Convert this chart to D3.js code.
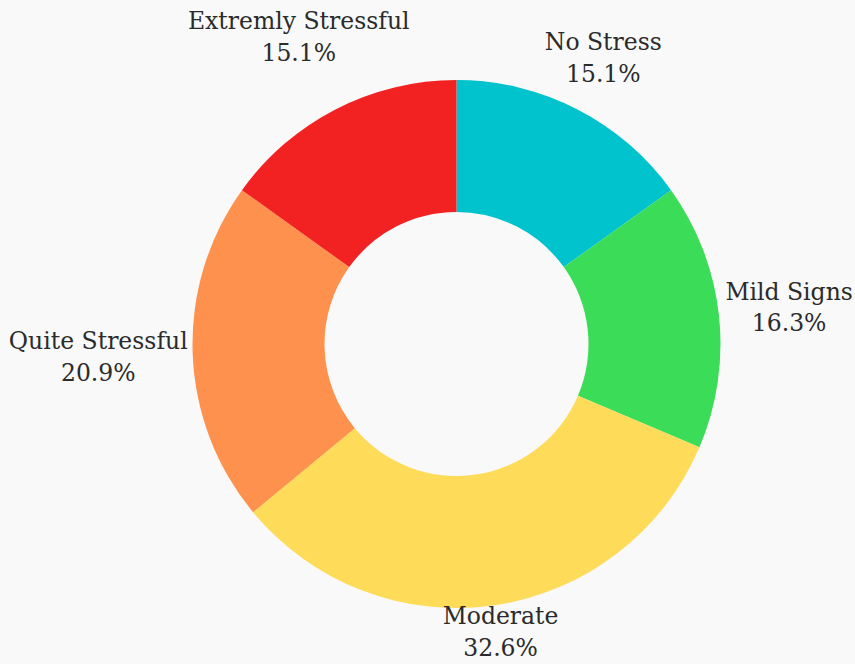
<!DOCTYPE html>
<html lang="en">
  <head>
    <meta charset="UTF-8" />
    <title>Stress levels</title>
    <style>
      html, body {
        margin: 0;
        background-color: #f9f9f9;
      }
      #chart text {
        font-family: "DejaVu Serif", serif;
        fill: #2b2b2b;
      }
    </style>
    <script src="https://cdn.jsdelivr.net/npm/d3@7"></script>
  </head>
  <body>
    <div id="chart"></div>
    <script>
      // data, in clockwise order from 12 o'clock
      const categories = ["No Stress", "Mild Signs", "Moderate", "Quite Stressful", "Extremly Stressful"];
      const shares = [15.1, 16.3, 32.6, 20.9, 15.1];
      const sliceColors = ["#00c3cd", "#3bdc57", "#fedc5a", "#fe914d", "#f22222"];

      const width = 855, height = 664;
      const cx = 456.5, cy = 344;
      const outerR = 264, innerR = 132;
      const fontSize = 23.5, lineGap = 32;

      const svg = d3.select("#chart").append("svg")
        .attr("width", width)
        .attr("height", height);

      const data = categories.map((c, i) => ({ name: c, value: shares[i], color: sliceColors[i] }));

      const pie = d3.pie().sort(null).value(d => d.value);
      const arc = d3.arc().innerRadius(innerR).outerRadius(outerR);

      const g = svg.append("g").attr("transform", `translate(${cx},${cy})`);

      const arcs = pie(data);

      g.selectAll("path.slice")
        .data(arcs)
        .join("path")
        .attr("class", "slice")
        .attr("d", arc)
        .attr("fill", d => d.data.color);

      // outside labels: box pushed just past the rim along the mid angle
      const labels = g.selectAll("g.label")
        .data(arcs)
        .join("g")
        .attr("class", "label");

      labels.append("text")
        .attr("text-anchor", "middle")
        .attr("font-size", fontSize)
        .attr("y", -lineGap / 2 + fontSize * 0.35)
        .text(d => d.data.name);
      labels.append("text")
        .attr("text-anchor", "middle")
        .attr("font-size", fontSize)
        .attr("y", lineGap / 2 + fontSize * 0.35)
        .text(d => d.data.value.toFixed(1) + "%");

      const pad = 4;
      labels.attr("transform", function (d) {
        const bb = this.getBBox();
        const a = (d.startAngle + d.endAngle) / 2;
        const s = Math.sin(a), c = -Math.cos(a);
        const r = outerR + pad + Math.abs(s) * bb.width / 2 + Math.abs(c) * bb.height / 2;
        let x = r * s, y = r * c;
        // keep inside the picture
        const half = bb.height / 2;
        x = Math.max(-cx + bb.width / 2 + 2, Math.min(width - cx - bb.width / 2 - 2, x));
        y = Math.max(-cy + half + 2, Math.min(height - cy - half - 2, y));
        return `translate(${x},${y})`;
      });
    </script>
  </body>
</html>
